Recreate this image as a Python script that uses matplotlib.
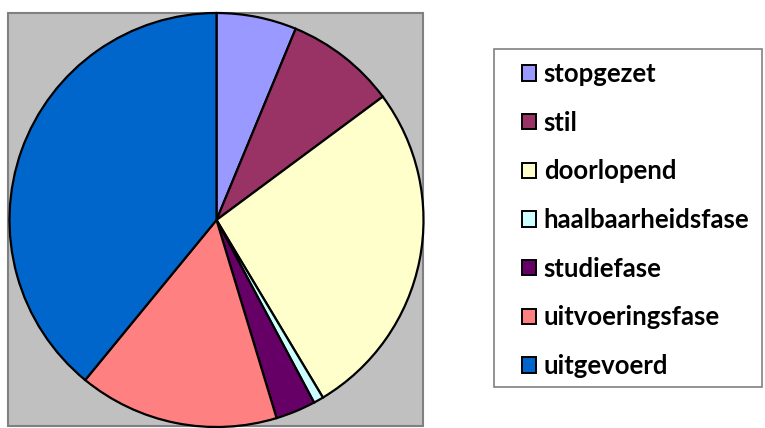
import matplotlib
matplotlib.use("Agg")
import matplotlib.pyplot as plt
from matplotlib.patches import Rectangle

categories = ["stopgezet", "stil", "doorlopend", "haalbaarheidsfase",
              "studiefase", "uitvoeringsfase", "uitgevoerd"]
values = [8, 11, 34, 1, 4, 20, 50]
colors = ["#9999FF", "#993366", "#FFFFCC", "#CCFFFF", "#660066", "#FF8080", "#0066CC"]

W, H = 765, 428
fig = plt.figure(figsize=(W / 100, H / 100), dpi=100)
fig.patch.set_facecolor("white")

def fx(x):
    return x / W

def fy(y):
    return 1 - y / H

# plot area background
fig.patches.append(Rectangle((fx(8), fy(426)), fx(423) - fx(8), fy(13) - fy(426),
                             transform=fig.transFigure, facecolor="#C0C0C0",
                             edgecolor="#808080", linewidth=1.5, zorder=-5))

cx, cy, r = 216.5, 220, 207
ax = fig.add_axes([fx(cx - r), fy(cy + r), 2 * r / W, 2 * r / H])
ax.set_facecolor("none")
ax.patch.set_alpha(0)
wedges, _ = ax.pie(values, colors=colors, startangle=90, counterclock=False,
                   wedgeprops=dict(edgecolor="black", linewidth=1.6))
ax.set_aspect("auto")
ax.set_xlim(-1, 1)
ax.set_ylim(-1, 1)
ax.axis("off")
ax.set_zorder(1)

# legend frame
fig.patches.append(Rectangle((fx(494), fy(387)), fx(762) - fx(494), fy(49) - fy(387),
                             transform=fig.transFigure, facecolor="white",
                             edgecolor="#808080", linewidth=1.2, zorder=-4))

leg = fig.legend(wedges, categories, loc="upper left",
                 bbox_to_anchor=(fx(522), fy(62)), frameon=False,
                 prop=dict(family="Lato", weight="bold", size=18.5),
                 handlelength=0.55, handleheight=0.55, handletextpad=0.3,
                 labelspacing=0.96, borderaxespad=0, borderpad=0)
for h in leg.legend_handles:
    h.set_edgecolor("black")
    h.set_linewidth(1.4)
leg.set_zorder(2)

fig.savefig("out.png", dpi=100)
